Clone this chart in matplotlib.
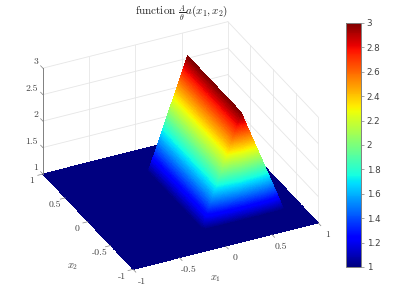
import numpy as np
import matplotlib
matplotlib.use('Agg')
import matplotlib.pyplot as plt
from matplotlib.colors import Normalize
from mpl_toolkits.mplot3d import proj3d

plt.rcParams.update({'font.family':'cmr10','mathtext.fontset':'cm','axes.formatter.use_mathtext':True})

# profile of a along x1 (knots) and support in x2
x1_knots=[-1.0,-0.06,0.365,0.82,1.0]
a_knots=[1.0,1.0,3.0,1.0,1.0]
x2_knots=[-1.0,-0.63,-0.59,0.59,0.63,1.0]
on_knots=[0.0,0.0,1.0,1.0,0.0,0.0]
x1_ticks=[-1,-0.5,0,0.5,1]
x2_ticks=[-1,-0.5,0,0.5,1]
z_ticks=[1,1.5,2,2.5,3]
cb_ticks=[1,1.2,1.4,1.6,1.8,2,2.2,2.4,2.6,2.8,3]
GRID='#e6e6e6'; AX='#808080'; TXT='#404040'

fig=plt.figure(figsize=(4.15,3.01),dpi=100)
W=307
ax=fig.add_axes([(180.5-0.5135*W)/415,(155.5-0.5135*W)/301,W/415,W/301],projection='3d',proj_type='ortho')
ax.view_init(elev=31,azim=-116)
ax.set_box_aspect((1,1,0.6))
ax.set_xlim(-1,1); ax.set_ylim(-1,1); ax.set_zlim(1,3)
ax.set_axis_off()
ax.patch.set_alpha(0)

def lab(x,y,z,s,dx,dy,ha='center'):
    # tick label at a pixel offset from its 3d anchor
    xp,yp,_=proj3d.proj_transform(x,y,z,ax.get_proj())
    ax.annotate(s,xy=(xp,yp),xycoords='data',xytext=(dx,dy),textcoords='offset pixels',
                ha=ha,va='center',fontsize=7,color=TXT,annotation_clip=False)

# back walls
for z in z_ticks:
    ax.plot([-1,1],[1,1],[z,z],color=GRID,lw=0.6,zorder=1)
    ax.plot([1,1],[-1,1],[z,z],color=GRID,lw=0.6,zorder=1)
for v in x1_ticks[1:]:
    ax.plot([v,v],[1,1],[1,3],color=GRID,lw=0.6,zorder=1)
for v in x2_ticks[:-1]:
    ax.plot([1,1],[v,v],[1,3],color=GRID,lw=0.6,zorder=1)

# interp shading: the knots are only resampled finely so the colours can grade like MATLAB's
xs=np.unique(np.r_[np.linspace(-1,1,121),np.linspace(x1_knots[1],x1_knots[2],110),np.linspace(x1_knots[2],x1_knots[3],70)])
ys=np.unique(np.r_[np.linspace(-1,1,41),np.linspace(-0.63,-0.59,130),np.linspace(0.59,0.63,20)])
X,Y=np.meshgrid(xs,ys)
Z=1+(np.interp(X,x1_knots,a_knots)-1)*np.interp(Y,x2_knots,on_knots)
norm=Normalize(1,3)
fc=plt.cm.jet(norm(Z[:-1,:-1]/4+Z[1:,:-1]/4+Z[:-1,1:]/4+Z[1:,1:]/4))
ax.plot_surface(X,Y,Z,facecolors=fc,rstride=1,cstride=1,linewidth=0,antialiased=False,shade=False,zorder=2)

# axis line and ticks
ax.plot([-1,-1],[1,1],[1,3],color=AX,lw=0.7,zorder=3)
for z in z_ticks:
    ax.plot([-1,-1],[1,1.05],[z,z],color=AX,lw=0.5,zorder=3)
    lab(-1,1,z,f'{z:g}',-5,6,ha='right')
for v in x1_ticks:
    ax.plot([v,v],[-1,-1.06],[1,1],color=AX,lw=0.5,zorder=3)
    lab(v,-1,1,f'{v:g}',9,-12)
for v in x2_ticks:
    ax.plot([-1,-1.055],[v,v],[1,1],color=AX,lw=0.5,zorder=3)
    lab(-1,v,1,f'{v:g}',-11,-7)
fig.text(216/415,1-279/301,r'$x_1$',ha='center',va='center',fontsize=7.5,color=TXT)
fig.text(73/415,1-267/301,r'$x_2$',ha='center',va='center',fontsize=7.5,color=TXT)
fig.text(182/415,1-13/301,r'function $\frac{A}{\theta}a(x_1,x_2)$',ha='center',va='center',fontsize=8,color='#262626')

# colorbar
cax=fig.add_axes([346/415,1-267/301,15/415,244/301])
cb=fig.colorbar(plt.cm.ScalarMappable(norm=norm,cmap='jet'),cax=cax)
cb.set_ticks(cb_ticks)
cb.set_ticklabels([f'{v:g}' for v in cb_ticks])
cb.ax.tick_params(length=2,width=0.5,color=AX,labelcolor=TXT,pad=2,labelsize=6.3)
for l in cb.ax.get_yticklabels(): l.set_family('DejaVu Sans')
cb.outline.set_edgecolor(AX); cb.outline.set_linewidth(0.7)
fig.savefig('out.png',dpi=100)
